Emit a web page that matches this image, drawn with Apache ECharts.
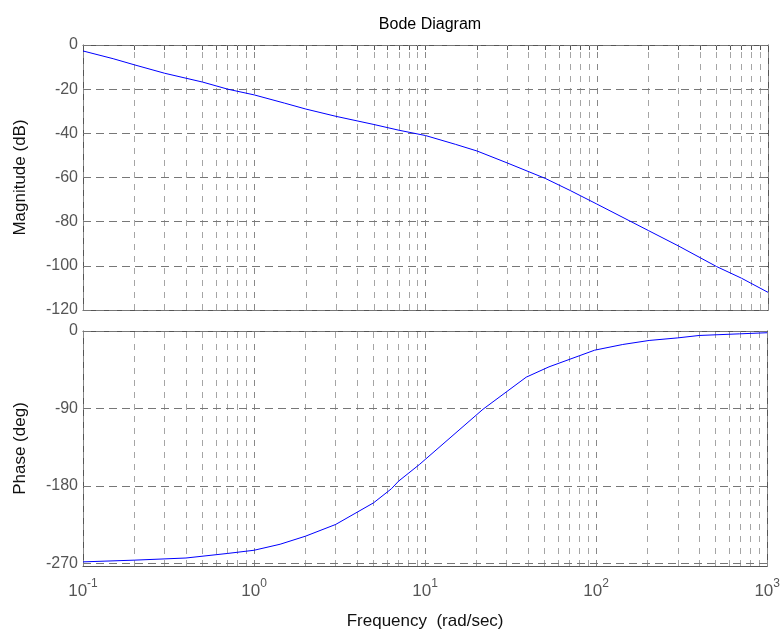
<!DOCTYPE html>
<html><head><meta charset="utf-8">
<script src="https://cdn.jsdelivr.net/npm/echarts@6/dist/echarts.min.js"></script>
<style>html,body{margin:0;padding:0;background:#fff}#c{width:783px;height:633px}</style>
</head><body><div id="c"></div>
<script>
// ---- data ----
const freqMag = [0.1,0.15,0.2,0.3,0.5,0.7,1,1.5,2,3,5,7,10,15,20,30,50,70,100,200,300,500,700,1000];
const magnitude = [-2.7,-6.2,-9,-12.8,-16.8,-20,-22.6,-26.3,-29,-32.3,-36,-38.6,-41,-45,-48,-53.4,-60.4,-65.9,-72,-84,-91,-100.3,-105.6,-112];
const freqPhase = [0.1,0.2,0.4,0.7,1,1.42,2,3,5,6.35,7,9.3,10,21.8,39,53,98,143,204,300,400,690,1000];
const phase = [-268.5,-266.5,-264,-258.7,-255,-248,-238.6,-225,-199.8,-183.5,-174.6,-155,-149.5,-91,-53.7,-41.7,-22.3,-15.7,-11,-8,-5.2,-3.3,-2];
const decades = [0.1,1,10,100,1000];
const multipliers = [1,2,3,4,5,6,7,8,9];
const magTicks = [-120,-100,-80,-60,-40,-20,0];
const phaseTicks = [-270,-180,-90,0];

// ---- build ----
const tickVals = [];
decades.slice(0,4).forEach(d => multipliers.forEach(m => tickVals.push(+(d*m).toPrecision(3))));
tickVals.push(1000);
const FF = '"Liberation Sans", Arial, sans-serif';
const AX = '#555';

function xAx(gi, pos, labels) {
  return {
    type:'log', logBase:10, gridIndex:gi, min:0.1, max:1000, position:pos,
    axisLine:{show:true, onZero:false, lineStyle:{color:AX, width:1}},
    axisTick:{show:true, inside:true, length:5, customValues:tickVals, lineStyle:{color:AX}},
    axisLabel:{show:labels, margin:12, fontFamily:FF, color:'#555',
      formatter: v => '{b|10}{s|' + Math.round(Math.log10(v)) + '}',
      rich:{ b:{fontSize:17, fontFamily:FF, color:'#555', verticalAlign:'bottom'},
             s:{fontSize:12, fontFamily:FF, color:'#555', verticalAlign:'bottom', padding:[0,0,10,0]} }},
    splitLine:{show:false},
    name: (labels ? 'Frequency  (rad/sec)' : ''), nameLocation:'middle', nameGap:47,
    nameTextStyle:{fontSize:17, fontFamily:FF, color:'#111'}
  };
}
function yAx(gi, pos, labels, min, interval, custom, name, nameGap) {
  const a = {
    type:'value', gridIndex:gi, min:min, max:0, position:pos,
    axisLine:{show:true, onZero:false, lineStyle:{color:AX, width:1}},
    axisTick:{show:true, inside:true, length:5, lineStyle:{color:AX}},
    axisLabel:{show:labels, margin:5, fontSize:16, fontFamily:FF, color:'#555'},
    splitLine:{show:false},
    name: labels ? name : '', nameLocation:'middle', nameGap:nameGap,
    nameTextStyle:{fontSize:17, fontFamily:FF, color:'#111'}
  };
  if (interval) a.interval = interval;
  if (custom) { a.axisLabel.customValues = custom; a.axisTick.customValues = custom; }
  return a;
}
function gridLines(hTicks) {
  const d = [];
  tickVals.forEach(v => d.push({xAxis:v, lineStyle:{color: decades.indexOf(v) >= 0 ? '#888' : '#a5a5a5', type:[6,6], width:1}}));
  hTicks.forEach(v => d.push({yAxis:v, lineStyle:{color:'#777', type:[8,5], width:1}}));
  return {silent:true, symbol:['none','none'], label:{show:false}, animation:false, data:d, emphasis:{disabled:true}};
}

const chart = echarts.init(document.getElementById('c'), null, {renderer:'canvas'});
chart.setOption({
  animation:false,
  backgroundColor:'#fff',
  title:{text:'Bode Diagram', left:425, top:12, textAlign:'center',
         textStyle:{fontSize:16, fontWeight:'normal', fontFamily:FF, color:'#000'}},
  grid:[
    {left:83, right:15, top:45, height:265, containLabel:false},
    {left:83, right:15, top:331, height:235, containLabel:false}
  ],
  xAxis:[ xAx(0,'bottom',false), xAx(0,'top',false), xAx(1,'bottom',true), xAx(1,'top',false) ],
  yAxis:[
    yAx(0,'left',true,-120,20,null,'Magnitude (dB)',54),
    yAx(0,'right',false,-120,20,null,'',0),
    yAx(1,'left',true,-273.3,null,phaseTicks,'Phase (deg)',54),
    yAx(1,'right',false,-273.3,null,phaseTicks,'',0)
  ],
  series:[
    {type:'line', xAxisIndex:0, yAxisIndex:0, data:freqMag.map((f,i)=>[f,magnitude[i]]),
     symbol:'none', lineStyle:{color:'#0000ff', width:1}, z:5, markLine:gridLines(magTicks)},
    {type:'line', xAxisIndex:2, yAxisIndex:2, data:freqPhase.map((f,i)=>[f,phase[i]]),
     symbol:'none', lineStyle:{color:'#0000ff', width:1}, z:5, markLine:gridLines(phaseTicks)}
  ]
});
</script></body></html>
